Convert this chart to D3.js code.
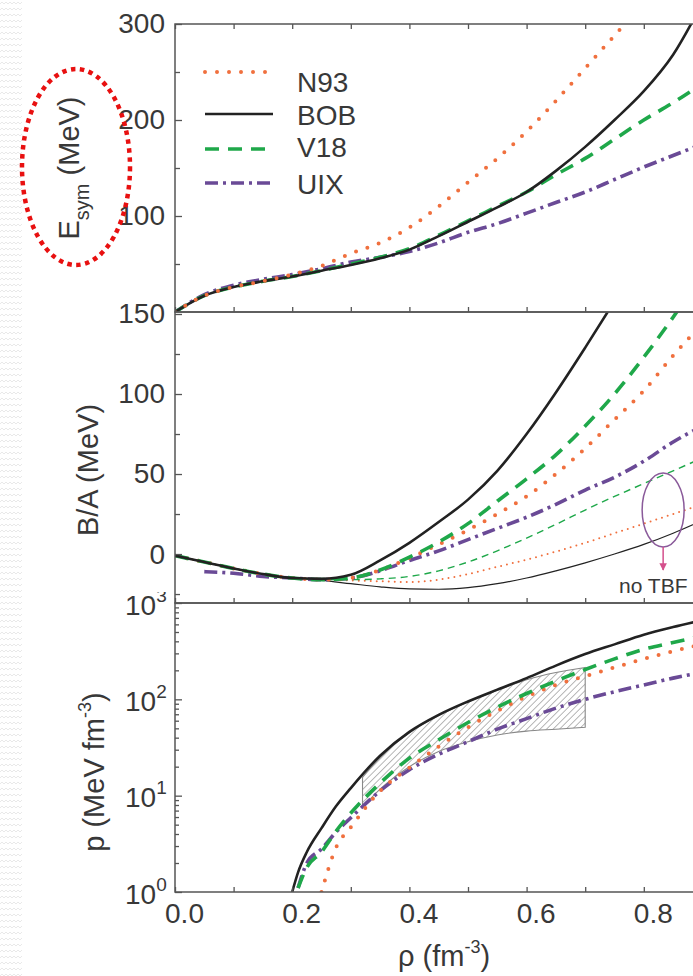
<!DOCTYPE html>
<html>
<head>
<meta charset="utf-8">
<script src="https://cdn.jsdelivr.net/npm/d3@7"></script>
<style>
  body { margin: 0; background: #fff; }
  svg text { font-family: "Liberation Sans", Arial, Helvetica, sans-serif; fill: #383838; }
</style>
</head>
<body>
<svg id="chart" width="693" height="976"></svg>
<script>
// density grid, fm^-3
const rho = [0, 0.05, 0.1, 0.15, 0.2, 0.25, 0.3, 0.35, 0.4, 0.45, 0.5, 0.55, 0.6, 0.65, 0.7, 0.75, 0.8, 0.85, 0.9];

// symmetry energy Esym (MeV)
const esymN93 = [0, 17, 26, 32, 39, 48, 61, 72, 88, 110, 135, 160, 188, 220, 254, 288, 322, null, null];
const esymBOB = [0, 17, 26, 32, 37, 43, 49, 56, 65, 79, 94, 109, 125, 147, 172, 200, 230, 268, 322];
const esymV18 = [0, 17, 26, 32, 37, 43, 50, 57, 66, 80, 95, 110, 125, 143, 160, 180, 200, 218, 238];
const esymUIX = [0, 18, 28, 34, 39, 45, 52, 57, 63, 72, 83, 92, 103, 114, 125, 138, 151, 163, 175];

// binding energy B/A (MeV), with three-body forces
const baN93 = [-1, -5, -9, -12.5, -15, -16, -15, -10, -2.5, 6, 15, 25, 36, 50, 66, 84, 102, 124, 144];
const baBOB = [-1, -5, -9, -12.5, -15, -15.5, -13, -4, 7, 20, 34, 52, 75, 101, 129, 158, null, null, null];
const baV18 = [-1, -5, -9, -12.5, -15, -16, -15, -10, -2, 7.5, 19, 33, 47, 62, 80, 100, 123, 148, 175];
const baUIX = [null, -11, -12, -14, -15, -16, -15, -10.5, -4, 2, 9, 16, 23, 31, 40, 48, 58, 70, 80];
// binding energy B/A (MeV), no three-body forces
const baN93noTBF = [-1, -5, -9, -12.5, -15, -16, -16.5, -17, -17.5, -16, -12.5, -8, -3.5, 1.5, 7, 13, 19, 25, 31];
const baBOBnoTBF = [-1, -5, -9, -12.5, -15, -16.5, -18.5, -20.5, -21.8, -22, -21, -18.5, -15, -10.5, -5.5, 0, 6, 13, 21];
const baV18noTBF = [-1, -5, -9, -12.5, -15, -16, -16, -15.5, -14, -10.5, -5, 2, 10, 18.5, 27.5, 36, 44, 52, 60];

// pressure p (MeV fm^-3)
const pRho = [0.2, 0.21, 0.225, 0.25, 0.275, 0.3, 0.35, 0.4, 0.45, 0.5, 0.55, 0.6, 0.65, 0.7, 0.75, 0.8, 0.85, 0.9];
const pN93 = [null, null, null, 1.0, 2.9, 4.7, 11.2, 19.5, 32.4, 51.3, 75.9, 107, 141, 174, 214, 263, 316, 372];
const pBOB = [1.0, 1.6, 2.6, 4.6, 7.8, 12, 26, 46, 69, 95, 126, 166, 224, 295, 372, 468, 562, 661];
const pV18 = [null, 1.1, 1.8, 2.6, 4.3, 6.6, 13.5, 24.5, 38, 57.5, 83, 115, 155, 204, 263, 331, 389, 457];
const pUIX = [null, 1.1, 2.0, 2.8, 4.2, 5.9, 11.2, 18.6, 26.9, 36.3, 49, 63, 81, 100, 120, 141, 166, 191];

// flow constraint band (hatched)
const flowRho  = [0.32, 0.35, 0.4, 0.45, 0.5, 0.55, 0.6, 0.65, 0.7];
const flowHigh = [15.5, 25, 45, 68, 94, 124, 160, 190, 214];
const flowLow  = [7.6, 11.7, 20, 28.8, 36.3, 42.7, 46.8, 49, 51.3];

const models = ["N93", "BOB", "V18", "UIX"];
const xTicks = [0, 0.1, 0.2, 0.3, 0.4, 0.5, 0.6, 0.7, 0.8, 0.9];
const xLabels = [0, 0.2, 0.4, 0.6, 0.8];

const style = {
  N93: { color: "#f0703e", width: 4, dash: "0 12", cap: "round" },
  BOB: { color: "#222222", width: 2.6, dash: null, cap: "butt" },
  V18: { color: "#1fa84a", width: 3.6, dash: "14 9", cap: "butt" },
  UIX: { color: "#6a4a96", width: 3.6, dash: "13 5 3 5", cap: "butt" }
};
const thinStyle = {
  N93: { color: "#f0703e", width: 2, dash: "0 6", cap: "round" },
  BOB: { color: "#222222", width: 1.2, dash: null, cap: "butt" },
  V18: { color: "#1fa84a", width: 1.4, dash: "7 5", cap: "butt" }
};

const svg = d3.select("#chart");
const X0 = 175, XR = 761;
const x = d3.scaleLinear().domain([0, 1]).range([X0, XR]);

const panels = {
  top: { y0: 24, y1: 312 },
  mid: { y0: 312, y1: 603 },
  bot: { y0: 603, y1: 892 }
};
const yE = d3.scaleLinear().domain([0, 300]).range([312, 24]);
const yB = d3.scaleLinear().domain([-30.6, 151.25]).range([603, 312]);
const yP = d3.scaleLog().domain([1, 1000]).range([892, 603]);

const defs = svg.append("defs");

// faint zigzag texture on the left margin
const zz = defs.append("pattern").attr("id", "zigzag")
  .attr("patternUnits", "userSpaceOnUse").attr("width", 8).attr("height", 6);
zz.append("polyline").attr("points", "0,4 2,2 4,4 6,2 8,4")
  .attr("fill", "none").attr("stroke", "#e9e9e9").attr("stroke-width", 1);
svg.append("rect").attr("x", 0).attr("y", 0).attr("width", 22).attr("height", 976)
  .attr("fill", "url(#zigzag)");

// hatch pattern
const hp = defs.append("pattern").attr("id", "hatch")
  .attr("patternUnits", "userSpaceOnUse").attr("width", 4.6).attr("height", 4.6)
  .attr("patternTransform", "rotate(45)");
hp.append("line").attr("x1", 0).attr("y1", 0).attr("x2", 0).attr("y2", 4.6)
  .attr("stroke", "#6e6e6e").attr("stroke-width", 1);

Object.entries(panels).forEach(([k, p]) => {
  defs.append("clipPath").attr("id", "clip-" + k)
    .append("rect").attr("x", X0).attr("y", p.y0).attr("width", XR - X0).attr("height", p.y1 - p.y0);
});
// labels group is translated by X0, so this rect is in its local space
defs.append("clipPath").attr("id", "clip-botlabels")
  .append("rect").attr("x", -X0).attr("y", 592).attr("width", X0 + 10).attr("height", 330);

const marker = defs.append("marker").attr("id", "arrow")
  .attr("viewBox", "0 0 10 10").attr("refX", 9).attr("refY", 5)
  .attr("markerWidth", 5).attr("markerHeight", 5).attr("orient", "auto");
marker.append("path").attr("d", "M0,0L10,5L0,10Z").attr("fill", "#d4508c");

function drawLine(g, xs, ys, yScale, st) {
  const line = d3.line()
    .defined((d, i) => ys[i] != null)
    .x((d, i) => x(xs[i]))
    .y((d, i) => yScale(ys[i]))
    .curve(d3.curveMonotoneX);
  g.append("path").datum(xs)
    .attr("d", line)
    .attr("fill", "none")
    .attr("stroke", st.color)
    .attr("stroke-width", st.width)
    .attr("stroke-linecap", st.cap)
    .attr("stroke-dasharray", st.dash);
}

// ---------- plot contents ----------
const gTop = svg.append("g").attr("clip-path", "url(#clip-top)");
drawLine(gTop, rho, esymUIX, yE, style.UIX);
drawLine(gTop, rho, esymV18, yE, style.V18);
drawLine(gTop, rho, esymBOB, yE, style.BOB);
drawLine(gTop, rho, esymN93, yE, style.N93);

const gMid = svg.append("g").attr("clip-path", "url(#clip-mid)");
drawLine(gMid, rho, baBOBnoTBF, yB, thinStyle.BOB);
drawLine(gMid, rho, baN93noTBF, yB, thinStyle.N93);
drawLine(gMid, rho, baV18noTBF, yB, thinStyle.V18);
drawLine(gMid, rho, baUIX, yB, style.UIX);
drawLine(gMid, rho, baN93, yB, style.N93);
drawLine(gMid, rho, baV18, yB, style.V18);
drawLine(gMid, rho, baBOB, yB, style.BOB);

const gBot = svg.append("g").attr("clip-path", "url(#clip-bot)");
const band = d3.area()
  .x((d, i) => x(flowRho[i]))
  .y0((d, i) => yP(flowLow[i]))
  .y1((d, i) => yP(flowHigh[i]))
  .curve(d3.curveMonotoneX);
gBot.append("path").datum(flowRho).attr("d", band)
  .attr("fill", "url(#hatch)").attr("stroke", "#888").attr("stroke-width", 1.1);
drawLine(gBot, pRho, pUIX, yP, style.UIX);
drawLine(gBot, pRho, pN93, yP, style.N93);
drawLine(gBot, pRho, pV18, yP, style.V18);
drawLine(gBot, pRho, pBOB, yP, style.BOB);

// ---------- axes ----------
const axisColor = "#555";
function styleAxis(g) {
  g.select(".domain").remove();
  g.selectAll(".tick line").attr("stroke", axisColor).attr("stroke-width", 1.3);
  g.selectAll(".tick text").attr("font-size", 28).attr("fill", "#383838");
}

// x ticks: downward along the very top, upward along each panel bottom
svg.append("g").attr("transform", `translate(0,${panels.top.y0})`)
  .call(d3.axisBottom(x).tickValues(xTicks).tickSize(5).tickFormat(""))
  .call(styleAxis);
Object.values(panels).forEach(p => {
  svg.append("g").attr("transform", `translate(0,${p.y1})`)
    .call(d3.axisBottom(x).tickValues(xTicks).tickSize(-5).tickFormat(""))
    .call(styleAxis);
});
const xLab = svg.append("g").attr("transform", `translate(0,${panels.bot.y1})`)
  .call(d3.axisBottom(x).tickValues(xLabels).tickSize(0).tickPadding(11).tickFormat(d3.format(".1f")))
  .call(styleAxis);
xLab.selectAll(".tick text").attr("dx", 9);

// top panel y axis
svg.append("g").attr("transform", `translate(${X0},0)`)
  .call(d3.axisLeft(yE).tickValues([100, 200, 300]).tickSize(-7).tickPadding(10).tickFormat(d3.format("d")))
  .call(styleAxis);
svg.append("g").attr("transform", `translate(${X0},0)`)
  .call(d3.axisLeft(yE).tickValues([50, 150, 250]).tickSize(-5).tickFormat(""))
  .call(styleAxis);

// middle panel y axis
svg.append("g").attr("transform", `translate(${X0},0)`)
  .call(d3.axisLeft(yB).tickValues([0, 50, 100, 150]).tickSize(-7).tickPadding(10).tickFormat(d3.format("d")))
  .call(styleAxis);
svg.append("g").attr("transform", `translate(${X0},0)`)
  .call(d3.axisLeft(yB).tickValues([-25, 25, 75, 125]).tickSize(-5).tickFormat(""))
  .call(styleAxis);

// bottom panel log axis
const logMajor = [1, 10, 100, 1000];
const logMinor = [];
[1, 10, 100].forEach(d => { for (let m = 2; m <= 9; m++) logMinor.push(d * m); });
const pAx = svg.append("g").attr("transform", `translate(${X0},0)`)
  .attr("clip-path", "url(#clip-botlabels)")
  .call(d3.axisLeft(yP).tickValues(logMajor).tickSize(-7).tickPadding(20).tickFormat(""))
  .call(styleAxis);
pAx.selectAll(".tick").each(function(d) {
  const t = d3.select(this).append("text")
    .attr("x", -50).attr("y", 11).attr("text-anchor", "start")
    .attr("font-size", 28).attr("fill", "#383838");
  t.append("tspan").text("10");
  t.append("tspan").attr("dy", -13).attr("font-size", 19).text(Math.round(Math.log10(d)));
});
svg.append("g").attr("transform", `translate(${X0},0)`)
  .call(d3.axisLeft(yP).tickValues(logMinor).tickSize(-4).tickFormat(""))
  .call(styleAxis);

// frames
Object.values(panels).forEach(p => {
  svg.append("rect").attr("x", X0).attr("y", p.y0)
    .attr("width", XR - X0).attr("height", p.y1 - p.y0)
    .attr("fill", "none").attr("stroke", axisColor).attr("stroke-width", 1.5);
});

// ---------- axis titles ----------
const tE = svg.append("text").attr("transform", "translate(79,168) rotate(-90)")
  .attr("text-anchor", "middle").attr("font-size", 29);
tE.append("tspan").text("E");
tE.append("tspan").attr("dy", 10).attr("font-size", 20).text("sym");
tE.append("tspan").attr("dy", -10).text(" (MeV)");

svg.append("text").attr("transform", "translate(98,470) rotate(-90)")
  .attr("text-anchor", "middle").attr("font-size", 29).text("B/A (MeV)");

const tP = svg.append("text").attr("transform", "translate(104,772) rotate(-90)")
  .attr("text-anchor", "middle").attr("font-size", 29);
tP.append("tspan").text("p  (MeV fm");
tP.append("tspan").attr("dy", -13).attr("font-size", 18).text("-3");
tP.append("tspan").attr("dy", 13).text(")");

const tX = svg.append("text").attr("x", 398).attr("y", 966).attr("font-size", 29);
tX.append("tspan").text("\u03c1 (fm");
tX.append("tspan").attr("dy", -13).attr("font-size", 18).text("-3");
tX.append("tspan").attr("dy", 13).text(")");

// red dotted ellipse around Esym title
svg.append("ellipse").attr("cx", 76).attr("cy", 167).attr("rx", 54).attr("ry", 98)
  .attr("fill", "none").attr("stroke", "#e81010").attr("stroke-width", 4.5)
  .attr("stroke-dasharray", "4.5 4.5");

// ---------- legend ----------
const legendY = { N93: 72, BOB: 114, V18: 149, UIX: 183 };
const legendTextY = { N93: 92, BOB: 125, V18: 157, UIX: 194 };
const leg = svg.append("g");
models.forEach(m => {
  const st = style[m];
  leg.append("line").attr("x1", 205).attr("x2", 273)
    .attr("y1", legendY[m]).attr("y2", legendY[m])
    .attr("stroke", st.color).attr("stroke-width", st.width)
    .attr("stroke-linecap", st.cap).attr("stroke-dasharray", st.dash);
  leg.append("text").attr("x", 297).attr("y", legendTextY[m])
    .attr("font-size", 28).text(m);
});

// ---------- "no TBF" annotation ----------
const ex = x(0.833), ey = yB(27.5);
svg.append("ellipse").attr("cx", ex).attr("cy", ey).attr("rx", 21).attr("ry", 37)
  .attr("fill", "none").attr("stroke", "#8a5a9a").attr("stroke-width", 1.5);
svg.append("line").attr("x1", ex).attr("x2", ex).attr("y1", ey + 37).attr("y2", ey + 60)
  .attr("stroke", "#d4508c").attr("stroke-width", 1.5).attr("marker-end", "url(#arrow)");
svg.append("text").attr("x", 619).attr("y", 593).attr("font-size", 21).text("no TBF");
</script>
</body>
</html>
